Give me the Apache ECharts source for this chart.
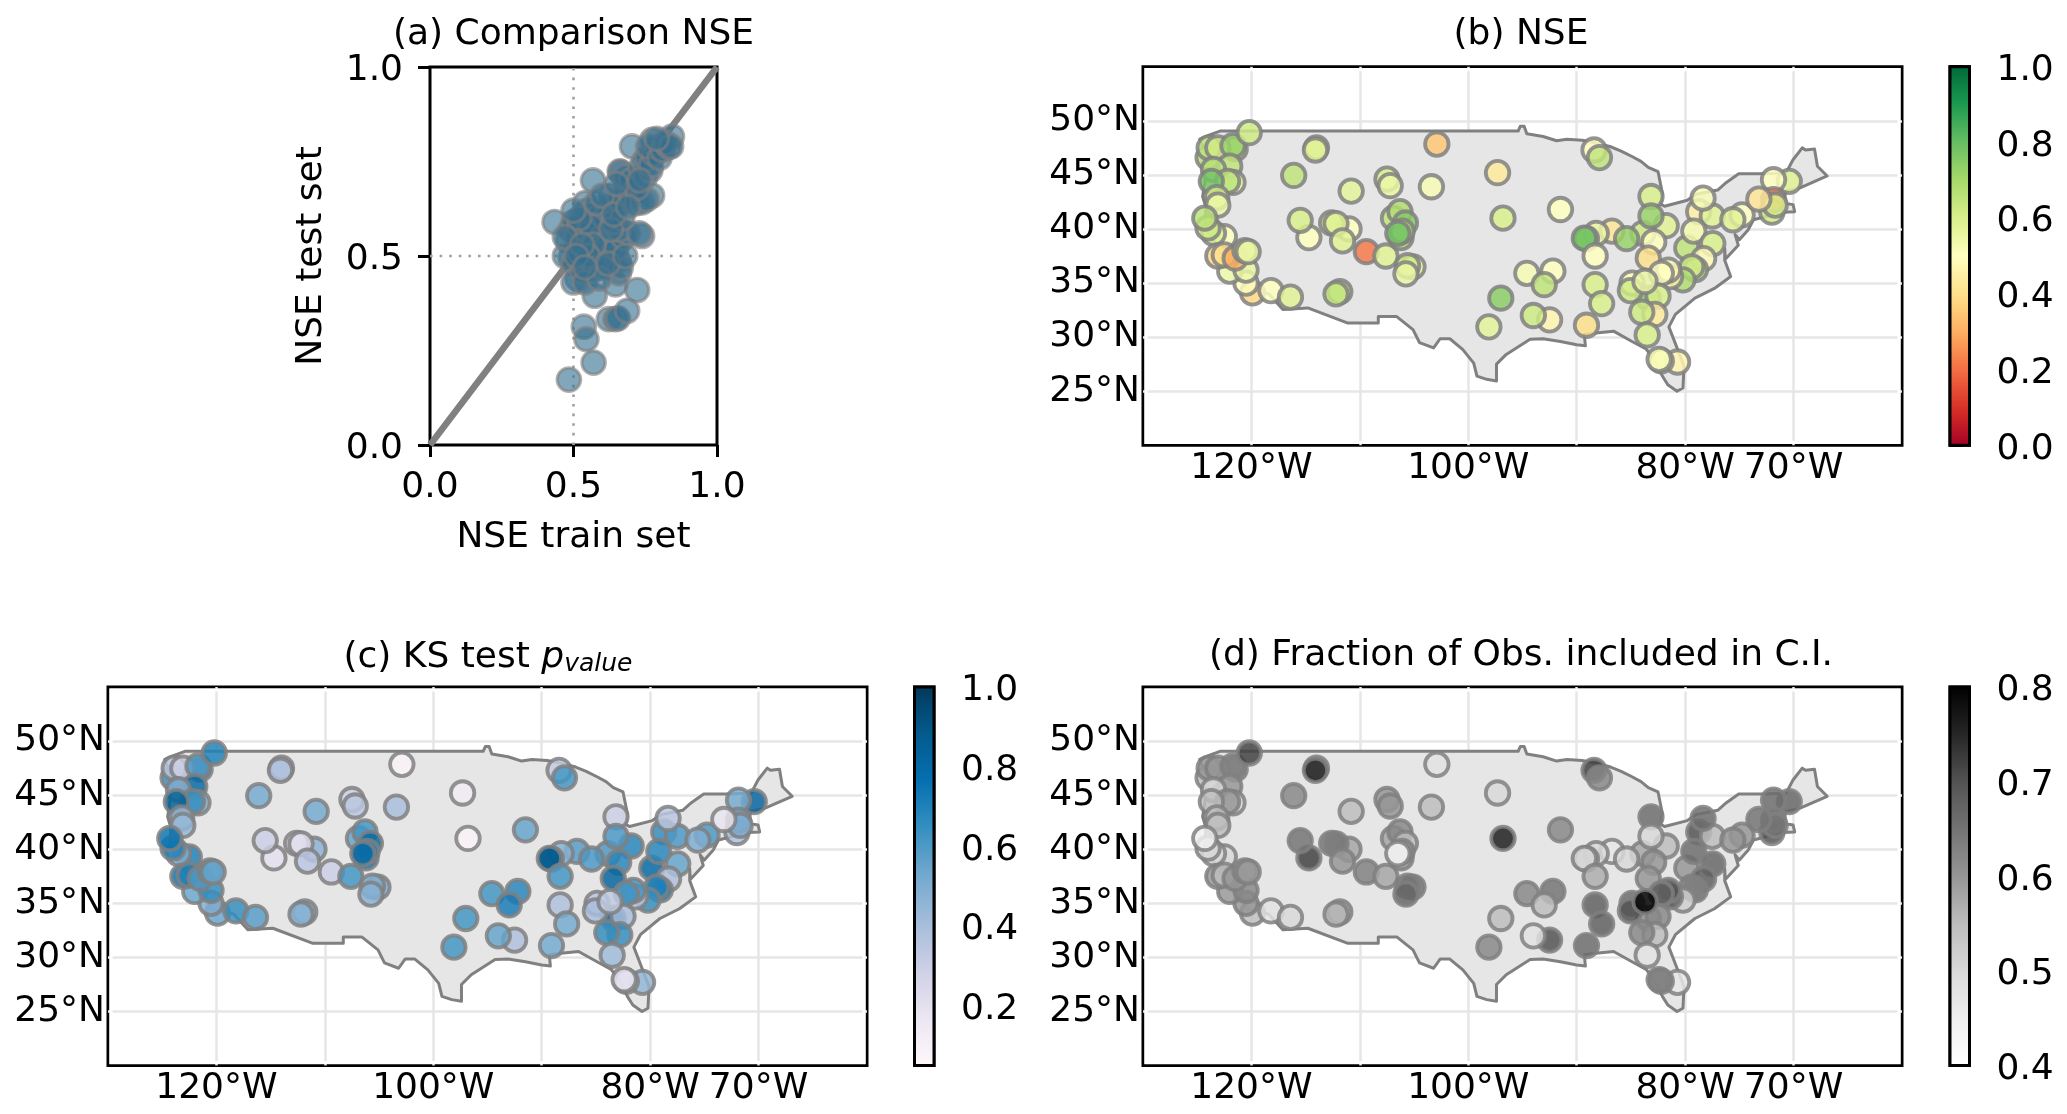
<!DOCTYPE html>
<html><head><meta charset="utf-8">
<style>html,body{margin:0;padding:0;background:#fff}#c{width:2067px;height:1114px}</style>
<script src="https://cdn.jsdelivr.net/npm/echarts@6/dist/echarts.min.js"></script>
</head><body><div id="c"></div>
<script>
// ---- panel (a)
const trainNSE=[.434,.484,.57,.536,.545,.623,.646,.655,.687,.722,.646,.574,.704,.568,.661,.774,.843,.774,.739,.49,.5,.48,.51,.52,.548,.54,.56,.572,.58,.55,.49,.47,.5,.52,.513,.5,.53,.548,.56,.575,.54,.59,.61,.6,.62,.64,.658,.658,.665,.65,.675,.69,.66,.73,.623,.652,.63,.61,.64,.67,.681,.66,.7,.72,.739,.755,.664,.68,.7,.72,.733,.75,.768,.745,.756,.77,.78,.791,.76,.8,.81,.832,.82,.84,.79,.56,.57,.6,.52,.5,.58,.47,.55,.59,.62,.63,.68,.6,.65,.53,.51,.54,.64,.69,.73];
const testNSE=[.59,.173,.218,.313,.28,.333,.333,.335,.355,.41,.425,.395,.79,.70,.724,.807,.816,.66,.553,.57,.59,.54,.55,.58,.62,.64,.61,.57,.60,.56,.496,.5,.48,.51,.44,.43,.46,.477,.49,.465,.43,.52,.5,.55,.53,.51,.454,.487,.47,.52,.548,.56,.57,.56,.628,.633,.66,.6,.59,.6,.68,.65,.66,.64,.642,.65,.722,.71,.7,.68,.732,.71,.727,.75,.76,.74,.77,.788,.79,.76,.78,.788,.8,.79,.81,.58,.53,.47,.6,.62,.64,.55,.5,.44,.48,.57,.5,.66,.69,.53,.5,.47,.61,.63,.7];
const identityLine=[[0,0],[1,1]];
const guideV=[[0.5,0],[0.5,1]];
const guideH=[[0,0.5],[1,0.5]];
// ---- stations
const stationLon=[-121.5,-124.0,-123.9,-123.1,-121.7,-120.2,-122.0,-123.5,-121.7,-122.2,
-123.7,-123.2,-123.1,-122.5,-123.5,-124.0,-124.3,-119.9,-120.5,-122.0,
-120.5,-123.1,-122.5,-121.5,-120.6,-120.3,-118.2,-116.4,-114.0,-114.1,
-116.1,-110.8,-107.5,-107.2,-103.4,-102.9,-97.3,-96.8,-91.5,-114.7,
-115.5,-111.0,-112.6,-112.2,-111.6,-109.4,-107.6,-106.9,-106.3,-105.8,
-106.2,-106.1,-106.5,-105.1,-105.6,-105.75,-111.85,-112.2,-94.6,-92.2,
-93.0,-97.0,-98.1,-92.5,-94.0,-89.1,-88.4,-87.9,-83.15,-81.75,
-83.9,-82.9,-83.15,-86.75,-88.2,-89.1,-89.3,-85.4,-88.3,-83.4,
-78.75,-77.5,-78.35,-79.85,-79.2,-77.45,-78.3,-79.05,-79.4,-80.2,
-81.35,-81.55,-82.2,-83.4,-82.5,-84.9,-85.05,-83.7,-82.8,-84.0,
-83.5,-80.7,-82.2,-82.4,-88.3,-87.7,-74.75,-75.6,-70.4,-71.85,
-72.0,-71.85,-71.7,-73.2];
const stationLat=[47.4,46.6,47.5,47.5,47.7,48.9,45.8,45.5,44.3,44.4,
44.4,42.9,42.2,39.3,39.6,40.1,41.0,34.1,35.0,36.1,
36.2,37.5,37.6,37.3,38.0,37.9,34.3,33.7,47.5,47.3,
44.95,43.5,44.6,44.0,43.9,47.85,45.2,41.0,41.8,39.2,
40.8,40.0,40.55,40.5,38.9,37.9,37.5,41.0,41.6,40.55,
39.2,39.8,39.6,36.5,36.6,35.85,34.2,34.0,35.9,36.1,
34.85,33.6,30.95,31.6,32.0,31.1,47.3,46.6,43.0,40.3,
39.6,38.8,41.2,39.8,39.6,39.1,39.15,39.1,37.5,37.3,
41.6,41.2,42.85,38.25,39.8,38.65,37.25,36.25,36.5,35.3,
35.6,36.2,35.9,33.6,33.8,35.0,34.3,35.15,32.1,32.3,
30.2,27.7,27.8,27.95,34.85,33.1,41.3,40.85,44.4,44.55,
41.55,42.7,42.2,42.75];
const nseValues=[.66,.68,.65,.62,.72,.62,.65,.66,.55,.66,
.78,.62,.55,.5,.6,.62,.66,.38,.5,.55,
.55,.38,.4,.3,.6,.55,.5,.58,.6,.58,
.65,.57,.6,.55,.52,.35,.43,.6,.5,.5,
.6,.5,.6,.58,.58,.22,.58,.65,.68,.75,
.7,.68,.78,.55,.62,.55,.66,.64,.52,.5,
.65,.74,.57,.47,.62,.4,.5,.65,.6,.58,
.62,.5,.72,.42,.55,.75,.78,.72,.5,.4,
.45,.58,.52,.65,.53,.6,.48,.66,.62,.68,
.45,.48,.5,.75,.6,.5,.62,.55,.43,.62,
.6,.47,.5,.52,.6,.6,.5,.58,.58,.5,
.62,.22,.6,.42];
const ksValues=[.7,.65,.35,.3,.6,.7,.8,.5,.5,.65,
.85,.45,.45,.7,.5,.7,.75,.55,.5,.55,
.65,.75,.7,.6,.62,.55,.65,.58,.4,.38,
.52,.52,.3,.35,.4,.08,.13,.08,.55,.2,
.3,.47,.2,.22,.35,.3,.62,.55,.62,.8,
.75,.7,.8,.5,.5,.48,.48,.48,.62,.68,
.72,.62,.62,.38,.55,.52,.32,.62,.3,.68,
.6,.68,.6,.58,.48,.85,.88,.6,.62,.82,
.65,.6,.35,.8,.68,.55,.38,.75,.7,.65,
.35,.62,.62,.82,.4,.35,.4,.33,.65,.65,
.42,.45,.25,.2,.38,.52,.6,.5,.82,.52,
.4,.55,.5,.18];
const fracValues=[.62,.55,.6,.6,.63,.72,.6,.5,.5,.6,
.55,.55,.55,.5,.5,.5,.45,.55,.6,.6,
.62,.6,.55,.6,.58,.6,.48,.5,.62,.75,
.62,.55,.6,.6,.55,.48,.5,.76,.62,.72,
.65,.58,.62,.64,.6,.63,.58,.58,.62,.55,
.6,.62,.4,.65,.65,.67,.57,.56,.62,.65,
.55,.55,.62,.7,.48,.66,.72,.62,.66,.55,
.58,.6,.5,.47,.5,.55,.5,.5,.57,.6,
.7,.55,.66,.6,.66,.67,.68,.65,.63,.52,
.68,.7,.68,.6,.62,.66,.7,.8,.55,.62,
.48,.47,.62,.63,.68,.68,.6,.6,.67,.66,
.7,.65,.65,.65];
// ---- CONUS outline (lon,lat)
const landOutline=[[-124.77,48.3],[-123.85,48.7],[-122.9,49.05],[-95.4,49.05],[-95.2,49.5],[-94.85,49.5],[-94.6,48.8],[-93.1,48.55],[-91.85,48.15],[-90.9,48.3],[-89.5,48.2],[-88.2,47.95],[-86.87,47.6],[-85.9,47.2],[-84.9,46.7],[-84.07,46.25],[-83.4,45.7],[-82.5,45.3],[-82.1,43.3],[-82.25,42.3],[-81.9,42.1],[-79.8,42.65],[-79,43.2],[-77,43.6],[-76.2,44.3],[-75.06,45.1],[-72.85,45.1],[-70.7,45.17],[-70.05,46.4],[-69.2,47.5],[-68.9,47.3],[-68.07,47.4],[-67.8,45.8],[-66.9,44.9],[-69.4,43.8],[-70.7,43.5],[-71,42.4],[-70.05,42.25],[-69.9,41.6],[-71,41.55],[-73.7,40.85],[-74.2,39.9],[-75,39],[-75.4,39.5],[-75.1,38.5],[-76.3,37.2],[-76.35,38.2],[-76.35,37.1],[-75.8,35.6],[-77.3,34.5],[-79.1,33.6],[-80.9,32.1],[-81.5,30.95],[-80.9,29.4],[-80.1,27.3],[-80.2,25.3],[-80.75,25],[-81.6,25.6],[-82.1,26.4],[-82.9,28],[-83.6,28.9],[-84.9,29.6],[-86.6,30.55],[-88,30.4],[-89.3,30.25],[-89.2,29.2],[-90,29.3],[-91.5,29.6],[-93.1,29.85],[-94.3,29.8],[-96.5,28.4],[-97.4,27.5],[-97.4,25.95],[-98.3,26.1],[-99.2,26.4],[-99.5,27.6],[-100.5,28.85],[-101.7,29.85],[-102.6,29.85],[-103.2,29],[-104.5,29.5],[-105.1,30.7],[-106.6,31.9],[-108.3,31.9],[-108.3,31.3],[-111.1,31.3],[-114.8,32.7],[-117.1,32.55],[-118.4,34],[-120.5,34.5],[-120.7,35.2],[-122.4,37.2],[-123.8,39.3],[-124.3,40.3],[-124.2,42],[-124.5,43],[-124,46.3]];
// ---- axes & colormaps
const mapLonRange=[-130,-60];
const mapLatRange=[20,55];
const lonTickLabels=[-120,-100,-80,-70];
const latTickLabels=[25,30,35,40,45,50];
const RdYlGn=['#a50026','#d73027','#f46d43','#fdae61','#fee08b','#ffffbf','#d9ef8b','#a6d96a','#66bd63','#1a9850','#006837'];
const PuBu=['#fff7fb','#ece7f2','#d0d1e6','#a6bddb','#74a9cf','#3690c0','#0570b0','#045a8d','#023858'];
const Greys=['#ffffff','#f0f0f0','#d9d9d9','#bdbdbd','#969696','#737373','#525252','#252525','#000000'];
const nseTicks=[0,.2,.4,.6,.8,1];
const ksTicks=[.2,.4,.6,.8,1];
const fracTicks=[.4,.5,.6,.7,.8];

const FONT='DejaVu Sans', FS=36, SPINE=3;
const grid=[],xAxis=[],yAxis=[],series=[],visualMap=[],title=[];
const text={fontFamily:FONT,fontSize:FS,color:'#000'};
const shiftedRich={t:{fontFamily:FONT,fontSize:FS,color:'#000',padding:[8,0,0,0]}};
function addGrid(left,top,width,height,x,y){
  grid.push({left,top,width,height,show:true,borderColor:'#000',borderWidth:SPINE,backgroundColor:'transparent',containLabel:false});
  xAxis.push(Object.assign({gridIndex:grid.length-1,type:'value'},x));
  yAxis.push(Object.assign({gridIndex:grid.length-1,type:'value'},y));
  return grid.length-1;
}
function addTitle(text_,cx,cy,rich){
  title.push({text:text_,left:cx,top:cy-16,padding:0,textAlign:'center',textStyle:{fontFamily:FONT,fontSize:FS,fontWeight:'normal',color:'#000',rich}});
}
// Panel (a)
const ga=addGrid(430,67,287,378,
 {min:0,max:1,interval:.5,splitLine:{show:false},axisLine:{show:false},
  axisTick:{show:true,length:12,lineStyle:{color:'#000',width:SPINE}},
  axisLabel:Object.assign({},text,{margin:25,showMinLabel:true,showMaxLabel:true,formatter:v=>v.toFixed(1)}),
  name:'NSE train set',nameLocation:'middle',nameGap:75,nameTextStyle:text},
 {min:0,max:1,interval:.5,splitLine:{show:false},axisLine:{show:false},
  axisTick:{show:true,length:12,lineStyle:{color:'#000',width:SPINE}},
  axisLabel:Object.assign({},text,{margin:27,rich:shiftedRich,showMinLabel:true,showMaxLabel:true,formatter:v=>'{t|'+v.toFixed(1)+'}'}),
  name:'NSE test set',nameLocation:'middle',nameGap:100,nameTextStyle:text});
[[guideV,'#a0a0a0',2.6,[2.6,7]],[guideH,'#a0a0a0',2.6,[2.6,7]],[identityLine,'#808080',6.5,'solid']].forEach(([d,c,w,t])=>{
  series.push({type:'line',xAxisIndex:ga,yAxisIndex:ga,data:d,symbol:'none',silent:true,animation:false,lineStyle:{color:c,width:w,type:t},z:2});
});
series.push({type:'scatter',xAxisIndex:ga,yAxisIndex:ga,data:trainNSE.map((v,i)=>[v,testNSE[i]]),symbolSize:23.5,animation:false,silent:true,
  itemStyle:{color:'#35708f',opacity:.62,borderColor:'#808080',borderWidth:3.2},z:3});
addTitle('(a) Comparison NSE',573.5,33);

function mapPanel(left,top,vals,cmap,vmin,vmax,cbLeft,ticks){
  const g=addGrid(left,top,759,378.6,
   {min:mapLonRange[0],max:mapLonRange[1],interval:10,
    splitLine:{show:true,showMinLine:false,showMaxLine:false,lineStyle:{color:'#e6e6e6',width:2.5}},
    axisLine:{show:false},axisTick:{show:false},
    axisLabel:Object.assign({},text,{margin:5,customValues:lonTickLabels,hideOverlap:false,formatter:v=>Math.abs(v)+'°W'})},
   {min:mapLatRange[0],max:mapLatRange[1],interval:5,
    splitLine:{show:true,showMinLine:false,showMaxLine:false,lineStyle:{color:'#e6e6e6',width:2.5}},
    axisLine:{show:false},axisTick:{show:false},
    axisLabel:Object.assign({},text,{margin:3,customValues:latTickLabels,formatter:v=>v+'°N'})});
  // gap between gridlines and frame
  series.push({type:'custom',xAxisIndex:g,yAxisIndex:g,data:[[0]],silent:true,animation:false,clip:false,z:1,
    renderItem:(p,api)=>{const a=api.coord([mapLonRange[0],mapLatRange[1]]),b=api.coord([mapLonRange[1],mapLatRange[0]]);
      return {type:'rect',shape:{x:a[0]+3,y:a[1]+3,width:b[0]-a[0]-6,height:b[1]-a[1]-6},style:{fill:'none',stroke:'#fff',lineWidth:3.2}};}});
  series.push({type:'custom',xAxisIndex:g,yAxisIndex:g,data:[[0]],silent:true,animation:false,z:2,
    renderItem:(p,api)=>({type:'polygon',shape:{points:landOutline.map(q=>api.coord(q))},style:{fill:'#e6e6e6',stroke:'#808080',lineWidth:3,lineJoin:'round'}})});
  const si=series.length;
  series.push({type:'scatter',xAxisIndex:g,yAxisIndex:g,data:stationLon.map((v,i)=>[v,stationLat[i],vals[i]]),symbolSize:23.5,animation:false,silent:true,
    itemStyle:{opacity:.84,borderColor:'#808080',borderWidth:3.8},z:3});
  visualMap.push({show:false,type:'continuous',seriesIndex:si,dimension:2,min:vmin,max:vmax,inRange:{color:cmap}});
  // colorbar
  const gc=addGrid(cbLeft,top,19.5,378.6,
   {min:0,max:1,show:false},
   {min:vmin,max:vmax,position:'right',splitLine:{show:false},axisLine:{show:false},
    axisTick:{show:true,length:12.5,customValues:ticks,lineStyle:{color:'#000',width:SPINE}},
    axisLabel:Object.assign({},text,{margin:27,rich:shiftedRich,customValues:ticks,formatter:v=>'{t|'+v.toFixed(1)+'}'})});
  const stops=cmap.map((c,i)=>({offset:i/(cmap.length-1),color:c})).reverse().map(s=>({offset:1-s.offset,color:s.color}));
  series.push({type:'custom',xAxisIndex:gc,yAxisIndex:gc,data:[[0]],silent:true,animation:false,clip:false,z:2,
    renderItem:(p,api)=>{const a=api.coord([0,vmax]),b=api.coord([1,vmin]);
      return {type:'rect',shape:{x:a[0],y:a[1],width:b[0]-a[0],height:b[1]-a[1]},
        style:{stroke:'#000',lineWidth:SPINE,fill:new echarts.graphic.LinearGradient(0,0,0,1,stops)}};}});
}
mapPanel(1143,66.7,nseValues,RdYlGn,0,1,1950,nseTicks);
addTitle('(b) NSE',1521,33);
mapPanel(108,687,ksValues,PuBu,.05,1,914.5,ksTicks);
addTitle('(c) KS test {p|p}{v|value}',488,654,{
  p:{fontFamily:FONT,fontSize:FS,fontStyle:'italic',color:'#000'},
  v:{fontFamily:FONT,fontSize:25,fontStyle:'italic',color:'#000',padding:[14,0,0,0]}});
mapPanel(1143,687,fracValues,Greys,.4,.8,1950,fracTicks);
addTitle('(d) Fraction of Obs. included in C.I.',1521,654);

const chart=echarts.init(document.getElementById('c'),null,{renderer:'canvas'});
chart.setOption({animation:false,backgroundColor:'#fff',title,grid,xAxis,yAxis,series,visualMap});
</script></body></html>
